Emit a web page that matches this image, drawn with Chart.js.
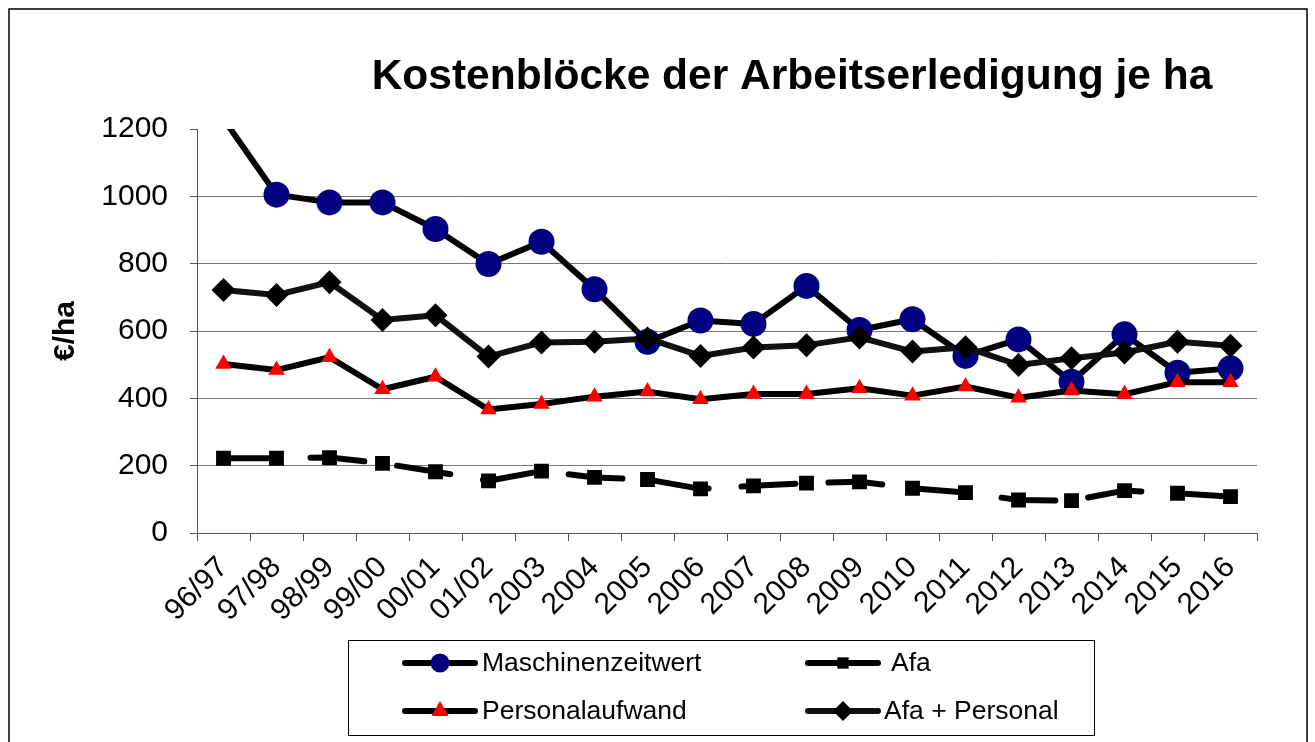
<!DOCTYPE html>
<html lang="de">
<head>
<meta charset="UTF-8">
<title>Kostenblöcke der Arbeitserledigung je ha</title>
<script src="https://cdn.jsdelivr.net/npm/chart.js@4.4.1/dist/chart.umd.min.js"></script>
<style>
  body { margin: 0; background: #fff; }
  canvas { display: block; }
</style>
</head>
<body>
<canvas id="kosten" width="1315" height="742"></canvas>
<script>
const titel = 'Kostenblöcke der Arbeitserledigung je ha';
const jahre = ['96/97', '97/98', '98/99', '99/00', '00/01', '01/02', '2003', '2004', '2005', '2006',
               '2007', '2008', '2009', '2010', '2011', '2012', '2013', '2014', '2015', '2016'];
const maschinenzeitwert = [1230, 1005, 982, 982, 903, 799, 865, 724, 568, 631, 621, 734, 603, 635, 526, 575, 449, 590, 476, 489];
const afa = [222, 222, 224, 207, 182, 155, 184, 165, 159, 131, 140, 148, 152, 133, 120, 98, 96, 126, 118, 108];
const personalaufwand = [502, 484, 522, 427, 464, 367, 383, 405, 420, 397, 413, 413, 430, 408, 435, 402, 423, 412, 448, 448];
const afaPlusPersonal = [722, 707, 745, 633, 647, 524, 566, 568, 578, 526, 551, 558, 581, 539, 552, 499, 519, 536, 568, 556];
const yTicks = [0, 200, 400, 600, 800, 1000, 1200];

const schrift = '"Liberation Sans", Arial, sans-serif';
Chart.defaults.font.family = schrift;
Chart.defaults.color = '#000';

const yMax = yTicks[yTicks.length - 1];

// Datensatz 0 wird zuletzt gezeichnet (liegt oben)
const datasets = [
  {
    label: 'Afa + Personal', data: afaPlusPersonal,
    borderColor: '#111', backgroundColor: '#000', borderWidth: 6,
    pointStyle: 'rectRot', pointRadius: 12, pointBackgroundColor: '#000', pointBorderWidth: 0
  },
  {
    label: 'Personalaufwand', data: personalaufwand,
    borderColor: '#000', backgroundColor: '#f00', borderWidth: 6,
    pointStyle: 'triangle', pointRadius: 9.5, pointBackgroundColor: '#ff0000', pointBorderWidth: 0
  },
  {
    label: 'Afa', data: afa,
    borderColor: '#000', backgroundColor: '#000', borderWidth: 6, borderDash: [54, 33],
    pointStyle: 'rect', pointRadius: 10.5, pointBackgroundColor: '#000', pointBorderWidth: 0
  },
  {
    label: 'Maschinenzeitwert', data: maschinenzeitwert,
    borderColor: '#000', backgroundColor: '#000080', borderWidth: 6,
    pointStyle: 'circle', pointBackgroundColor: '#000080', pointBorderWidth: 0,
    pointRadius: c => (c.raw > yMax ? 0 : 13)
  }
];
datasets.forEach(d => {
  d.tension = 0;
  d.fill = false;
  d.borderCapStyle = 'round';
  d.borderJoinStyle = 'round';
  d.pointHoverRadius = d.pointRadius;
});

// Legende (zwei Spalten) und Titel von Hand
const legendeEintraege = [
  { ds: 3, x: 405, y: 663, tx: 482, r: 9.5 },
  { ds: 2, x: 808, y: 663, tx: 891, r: 8 },
  { ds: 1, x: 405, y: 711, tx: 482, r: 10 },
  { ds: 0, x: 808, y: 711, tx: 884, r: 10 }
];

const extras = {
  id: 'extras',
  afterDraw(chart) {
    const ctx = chart.ctx;
    ctx.save();
    ctx.strokeStyle = '#000';
    ctx.lineWidth = 1.5;
    ctx.strokeRect(9, 9, 1298, 800);

    ctx.fillStyle = '#000';
    ctx.font = 'bold 42.5px ' + schrift;
    ctx.textAlign = 'center';
    ctx.textBaseline = 'alphabetic';
    ctx.fillText(titel, 792, 89);

    ctx.lineWidth = 1;
    ctx.strokeRect(348.5, 640.5, 746, 95);
    ctx.font = '26.5px ' + schrift;
    ctx.textAlign = 'left';
    ctx.textBaseline = 'middle';
    legendeEintraege.forEach(e => {
      const d = chart.data.datasets[e.ds];
      ctx.setLineDash([]);
      ctx.strokeStyle = d.borderColor;
      ctx.lineWidth = 6;
      ctx.lineCap = 'round';
      ctx.beginPath();
      ctx.moveTo(e.x, e.y);
      ctx.lineTo(e.x + 70, e.y);
      ctx.stroke();
      ctx.fillStyle = d.pointBackgroundColor;
      Chart.helpers.drawPoint(ctx, { pointStyle: d.pointStyle, radius: e.r, rotation: 0, borderWidth: 0 }, e.x + 35, e.y);
      ctx.fillStyle = '#000';
      ctx.fillText(d.label, e.tx, e.y + 1);
    });
    ctx.restore();
  }
};

new Chart(document.getElementById('kosten'), {
  type: 'line',
  data: { labels: jahre, datasets: datasets },
  options: {
    responsive: false,
    animation: false,
    layout: { padding: { top: 129, right: 58, bottom: 0, left: 0 } },
    plugins: {
      legend: { display: false },
      title: { display: false },
      tooltip: { enabled: false }
    },
    scales: {
      x: {
        offset: true,
        ticks: { color: '#000', font: { size: 30 }, minRotation: 45, maxRotation: 45, autoSkip: false, padding: 9 },
        grid: { display: true, drawOnChartArea: false, offset: true, tickLength: 8, color: '#555' },
        border: { color: '#555', width: 1 },
        afterFit: s => { s.height = 209; }
      },
      y: {
        min: 0,
        max: yMax,
        afterBuildTicks: s => { s.ticks = yTicks.map(v => ({ value: v })); },
        ticks: { color: '#000', font: { size: 30 }, padding: 22, callback: v => String(v) },
        grid: {
          color: c => (c.tick && c.tick.value === yMax ? 'rgba(0,0,0,0)' : '#777'),
          tickColor: '#555', tickLength: 7, lineWidth: 1
        },
        border: { color: '#555', width: 1 },
        title: { display: true, text: '€/ha', color: '#000', font: { size: 30, weight: 'bold' }, padding: { top: 48, bottom: 0 } },
        afterFit: s => { s.width = 197; }
      }
    }
  },
  plugins: [extras]
});
</script>
</body>
</html>
